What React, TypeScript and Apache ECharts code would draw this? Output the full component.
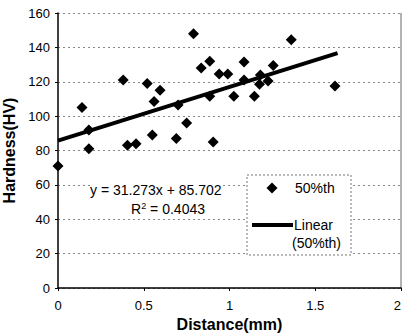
import React, { useEffect, useRef } from "react";
import * as echarts from "echarts";

const distance = [0, 0.14, 0.18, 0.18, 0.38, 0.405, 0.455, 0.52, 0.595, 0.56, 0.55, 0.69, 0.7, 0.75, 0.79, 0.835, 0.885, 0.885, 0.905, 0.94, 0.99, 1.025, 1.085, 1.085, 1.145, 1.175, 1.18, 1.225, 1.255, 1.36, 1.615];
const hardness = [71, 105, 92, 81, 121, 83, 84, 119, 115, 108.5, 89, 87, 106.5, 96, 148, 128, 132, 111.5, 85, 124.5, 124.5, 111.5, 131.5, 121, 111.5, 118.5, 124, 120.5, 129.5, 144.5, 117.5];
const slope = 31.273;
const intercept = 85.702;
const trendX = [0, 1.63];
const xTicks = ["0", "0.5", "1", "1.5", "2"];
const seriesName = "50%th";
const trendName = "Linear";

export default function App() {
  const ref = useRef<HTMLDivElement>(null);
  useEffect(() => {
    if (!ref.current) return;
    const chart = echarts.init(ref.current, null, { renderer: "svg" });
    const font = "'Liberation Sans', Arial, sans-serif";
    const points = distance.map((d, i) => [d, hardness[i]]);
    const trend = trendX.map((x) => [x, slope * x + intercept]);
    chart.setOption({
      animation: false,
      backgroundColor: "#fff",
      textStyle: { fontFamily: font },
      grid: { left: 58, right: 1, top: 13, bottom: 47, show: false, containLabel: false, outerBoundsMode: "none" },
      xAxis: {
        type: "value",
        min: 0,
        max: 2,
        interval: 0.5,
        name: "Distance(mm)",
        nameLocation: "middle",
        nameGap: 27,
        nameTextStyle: { fontFamily: font, fontSize: 16, fontWeight: "bold", color: "#000" },
        axisLine: { show: true, lineStyle: { color: "#000", width: 1.5 } },
        axisTick: { show: true, length: 3, lineStyle: { color: "#000" } },
        axisLabel: {
          color: "#000",
          fontSize: 13,
          fontFamily: font,
          margin: 11,
          alignMaxLabel: "right",
          formatter: (v: number) => xTicks[Math.round(v / 0.5)] ?? String(v),
        },
        splitLine: { show: false },
      },
      yAxis: {
        type: "value",
        min: 0,
        max: 160,
        interval: 20,
        name: "Hardness(HV)",
        nameLocation: "middle",
        nameGap: 37,
        nameTextStyle: { fontFamily: font, fontSize: 16, fontWeight: "bold", color: "#000" },
        axisLine: { show: true, lineStyle: { color: "#000", width: 1.5 } },
        axisTick: { show: true, length: 3, lineStyle: { color: "#000" } },
        axisLabel: { color: "#000", fontSize: 13, fontFamily: font, margin: 8 },
        splitLine: { show: true, lineStyle: { color: "#888", type: [2, 3], width: 1 } },
      },
      series: [
        {
          name: trendName,
          type: "line",
          data: trend,
          symbol: "none",
          lineStyle: { color: "#000", width: 4 },
          z: 2,
        },
        {
          name: seriesName,
          type: "scatter",
          data: points,
          symbol: "diamond",
          symbolSize: 11,
          itemStyle: { color: "#000", opacity: 1 },
          z: 3,
        },
      ],
      graphic: [
        {
          type: "line",
          shape: { x1: 401, y1: 13, x2: 401, y2: 288 },
          style: { stroke: "#666", lineWidth: 1 },
        },
        {
          type: "text",
          x: 90,
          y: 190,
          style: {
            text: "y = 31.273x + 85.702",
            fontFamily: font,
            fontSize: 14,
            fill: "#000",
            verticalAlign: "middle",
            backgroundColor: "#fff",
          },
          z: 10,
        },
        {
          type: "text",
          x: 205,
          y: 209,
          style: {
            text: "R{sup|2} = 0.4043",
            rich: { sup: { fontSize: 9, verticalAlign: "top", padding: [0, 0, 6, 0] } },
            fontFamily: font,
            fontSize: 14,
            fill: "#000",
            align: "right",
            verticalAlign: "middle",
            backgroundColor: "#fff",
          },
          z: 10,
        },
        {
          type: "rect",
          shape: { x: 247, y: 175, width: 104, height: 80 },
          style: { fill: "#fff", stroke: "#777", lineWidth: 1, lineDash: [2, 2] },
          z: 10,
        },
        {
          type: "polygon",
          shape: { points: [[272, 182.5], [277.5, 188], [272, 193.5], [266.5, 188]] },
          style: { fill: "#000" },
          z: 11,
        },
        {
          type: "text",
          x: 295,
          y: 188,
          style: { text: seriesName, fontFamily: font, fontSize: 14, fill: "#000", verticalAlign: "middle" },
          z: 11,
        },
        {
          type: "line",
          shape: { x1: 252, y1: 225, x2: 293, y2: 225 },
          style: { stroke: "#000", lineWidth: 4 },
          z: 11,
        },
        {
          type: "text",
          x: 294,
          y: 225,
          style: { text: trendName, fontFamily: font, fontSize: 14, fill: "#000", verticalAlign: "middle" },
          z: 11,
        },
        {
          type: "text",
          x: 292,
          y: 243,
          style: { text: "(" + seriesName + ")", fontFamily: font, fontSize: 14, fill: "#000", verticalAlign: "middle" },
          z: 11,
        },
      ],
    });
    return () => chart.dispose();
  }, []);
  return (
    <div
      ref={ref}
      style={{ position: "fixed", left: 0, top: 0, width: 402, height: 335, background: "#fff" }}
    />
  );
}
